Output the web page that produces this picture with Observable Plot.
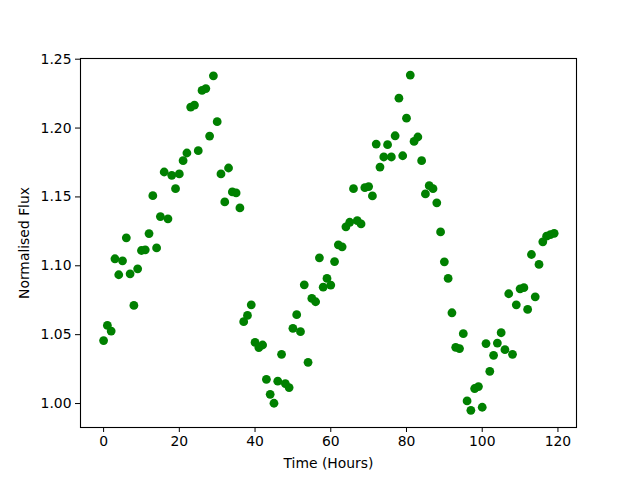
<!DOCTYPE html>
<html>
<head>
<meta charset="utf-8">
<script src="https://cdn.jsdelivr.net/npm/d3@7"></script>
<script src="https://cdn.jsdelivr.net/npm/@observablehq/plot@0.6"></script>
<style>
  html, body { margin: 0; padding: 0; background: white; }
</style>
</head>
<body>
<div id="chart"></div>
<script>
const hours = [
  0, 1, 2, 3, 4, 5, 6, 7, 8, 9,
  10, 11, 12, 13, 14, 15, 16, 17, 18, 19,
  20, 21, 22, 23, 24, 25, 26, 27, 28, 29,
  30, 31, 32, 33, 34, 35, 36, 37, 38, 39,
  40, 41, 42, 43, 44, 45, 46, 47, 48, 49,
  50, 51, 52, 53, 54, 55, 56, 57, 58, 59,
  60, 61, 62, 63, 64, 65, 66, 67, 68, 69,
  70, 71, 72, 73, 74, 75, 76, 77, 78, 79,
  80, 81, 82, 83, 84, 85, 86, 87, 88, 89,
  90, 91, 92, 93, 94, 95, 96, 97, 98, 99,
  100, 101, 102, 103, 104, 105, 106, 107, 108, 109,
  110, 111, 112, 113, 114, 115, 116, 117, 118, 119
];
const flux = [
  1.0457, 1.0567, 1.0526, 1.1051, 1.0935, 1.1036, 1.1203, 1.0942, 1.0712, 1.0978,
  1.1111, 1.1116, 1.1234, 1.1509, 1.1130, 1.1357, 1.1681, 1.1341, 1.1657, 1.1560,
  1.1667, 1.1763, 1.1819, 1.2152, 1.2167, 1.1836, 1.2273, 1.2287, 1.1942, 1.2379,
  1.2046, 1.1667, 1.1464, 1.1710, 1.1536, 1.1529, 1.1420, 1.0594, 1.0640, 1.0717,
  1.0444, 1.0406, 1.0425, 1.0176, 1.0067, 1.0002, 1.0162, 1.0357, 1.0145, 1.0116,
  1.0546, 1.0645, 1.0522, 1.0862, 1.0299, 1.0763, 1.0739, 1.1058, 1.0845, 1.0908,
  1.0860, 1.1031, 1.1152, 1.1138, 1.1283, 1.1316, 1.1560, 1.1328, 1.1304, 1.1567,
  1.1575, 1.1507, 1.1884, 1.1717, 1.1790, 1.1879, 1.1790, 1.1944, 1.2217, 1.1799,
  1.2072, 1.2385, 1.1903, 1.1935, 1.1763, 1.1522, 1.1582, 1.1560, 1.1457, 1.1246,
  1.1029, 1.0908, 1.0659, 1.0408, 1.0399, 1.0507, 1.0019, 0.9951, 1.0109, 1.0123,
  0.9973, 1.0435, 1.0234, 1.0350, 1.0439, 1.0514, 1.0391, 1.0797, 1.0357, 1.0717,
  1.0833, 1.0841, 1.0683, 1.1082, 1.0775, 1.1010, 1.1174, 1.1215, 1.1227, 1.1236
];
const xTicks = [0, 20, 40, 60, 80, 100, 120];
const yTicks = [1.00, 1.05, 1.10, 1.15, 1.20, 1.25];
const xLabel = "Time (Hours)";
const yLabel = "Normalised Flux";

const data = hours.map((t, i) => ({t, f: flux[i]}));

const chart = Plot.plot({
  width: 640,
  height: 480,
  marginLeft: 80,
  marginRight: 64,
  marginTop: 58,
  marginBottom: 53,
  style: {fontFamily: "DejaVu Sans", fontSize: "13.9px", background: "white", color: "black"},
  x: {domain: [-6.1, 124.9]},
  y: {domain: [0.9826, 1.2505]},
  marks: [
    Plot.dot(data, {x: "t", y: "f", r: 4.4, fill: "#008000", stroke: "none"}),
    Plot.frame({stroke: "black", strokeWidth: 1.1}),
    Plot.axisX({ticks: xTicks, tickSize: 5, tickPadding: 4, label: xLabel, labelAnchor: "center", labelArrow: "none", labelOffset: 40, fontSize: "13.9px"}),
    Plot.axisY({ticks: yTicks, tickSize: 5, tickPadding: 4, tickFormat: d3.format(".2f"), label: yLabel, labelAnchor: "center", labelArrow: "none", labelOffset: 61, fontSize: "13.9px"})
  ]
});
document.getElementById("chart").appendChild(chart);
</script>
</body>
</html>
